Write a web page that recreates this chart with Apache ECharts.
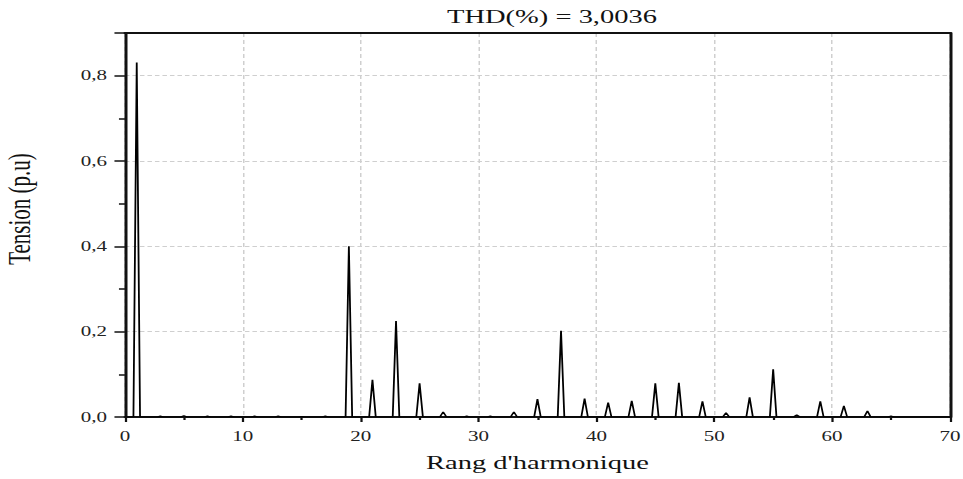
<!DOCTYPE html>
<html>
<head>
<meta charset="utf-8">
<script src="https://cdn.jsdelivr.net/npm/echarts@6/dist/echarts.min.js"></script>
<style>
html,body{margin:0;padding:0;background:#fff;overflow:hidden;}
#wrap{width:963px;height:479px;overflow:hidden;}
#chart{width:642px;height:479px;transform-origin:0 0;transform:scaleX(1.5);}
</style>
</head>
<body>
<div id="wrap"><div id="chart"></div></div>
<script>
// Harmonic orders and amplitudes (p.u)
const harmonics = [1,3,5,7,9,11,13,15,17,19,21,23,25,27,29,31,33,35,37,39,41,43,45,47,49,51,53,55,57,59,61,63,65];
const amplitudes = [0.831,0.002,0.003,0.002,0.002,0.002,0.002,0.001,0.002,0.400,0.087,0.225,0.079,0.012,0.002,0.002,0.012,0.042,0.202,0.043,0.034,0.038,0.079,0.080,0.037,0.010,0.046,0.112,0.005,0.037,0.026,0.014,0.002];
const xTicks = [0,10,20,30,40,50,60,70];
const yTicks = [0,0.2,0.4,0.6,0.8];
const titleText = 'THD(%) = 3,0036';

const halfWidth = 0.28;
const lineData = [[0,0]];
harmonics.forEach((h,i)=>{
  lineData.push([h-halfWidth,0],[h,amplitudes[i]],[h+halfWidth,0]);
});
lineData.push([70,0]);

const serif = 'Liberation Serif';
const xMin = xTicks[0], xMax = xTicks[xTicks.length-1], xInt = xTicks[1]-xTicks[0];
const yMin = yTicks[0], yMax = 0.9, yInt = yTicks[1]-yTicks[0];
const chart = echarts.init(document.getElementById('chart'), null, {renderer:'svg'});
chart.setOption({
  animation:false,
  backgroundColor:'#fff',
  title:{text:titleText,left:368,top:7,textAlign:'center',padding:0,
    textStyle:{fontFamily:serif,fontSize:19,fontWeight:'normal',color:'#111'}},
  grid:{left:83.3,right:8.7,top:33,bottom:62,containLabel:false,outerBoundsMode:'none'},
  xAxis:[{type:'value',min:xMin,max:xMax,interval:xInt,
    name:"Rang d'harmonique",nameLocation:'middle',nameGap:36,
    nameTextStyle:{fontFamily:serif,fontSize:19,color:'#111'},
    axisLine:{onZero:false,lineStyle:{color:'#111',width:2}},
    axisTick:{length:5,lineStyle:{color:'#111',width:1.5}},
    minorTick:{show:true,splitNumber:2,length:3,lineStyle:{color:'#111',width:1.5}},
    axisLabel:{margin:12,fontFamily:serif,fontSize:14,color:'#222'},
    splitLine:{show:true,lineStyle:{color:'#cfcfcf',type:[4,3],width:1}}
  },{type:'value',position:'top',min:xMin,max:xMax,interval:xInt,
    axisLine:{show:true,onZero:false,lineStyle:{color:'#111',width:2}},
    axisTick:{show:false},axisLabel:{show:false},splitLine:{show:false}
  }],
  yAxis:[{type:'value',min:yMin,max:yMax,interval:yInt,
    name:'Tension (p.u)',nameLocation:'middle',nameRotate:90,nameGap:60,
    nameTextStyle:{fontFamily:serif,fontSize:21,color:'#111',padding:[0,0,0,32]},
    axisLine:{show:true,onZero:false,lineStyle:{color:'#111',width:2}},
    axisTick:{show:true,length:7,lineStyle:{color:'#111',width:1.5}},
    minorTick:{show:true,splitNumber:2,length:4,lineStyle:{color:'#111',width:1.5}},
    axisLabel:{margin:12,fontFamily:serif,fontSize:14,color:'#222',showMaxLabel:false,
      formatter:v=>v.toFixed(1).replace('.',',')},
    splitLine:{show:true,lineStyle:{color:'#cfcfcf',type:[3,2],width:1}}
  },{type:'value',position:'right',min:yMin,max:yMax,interval:yInt,
    axisLine:{show:true,onZero:false,lineStyle:{color:'#111',width:2}},
    axisTick:{show:false},axisLabel:{show:false},splitLine:{show:false}
  }],
  series:[{type:'line',xAxisIndex:0,yAxisIndex:0,data:lineData,showSymbol:false,symbol:'none',
    lineStyle:{color:'#000',width:1.2},z:3}]
});
</script>
</body>
</html>
